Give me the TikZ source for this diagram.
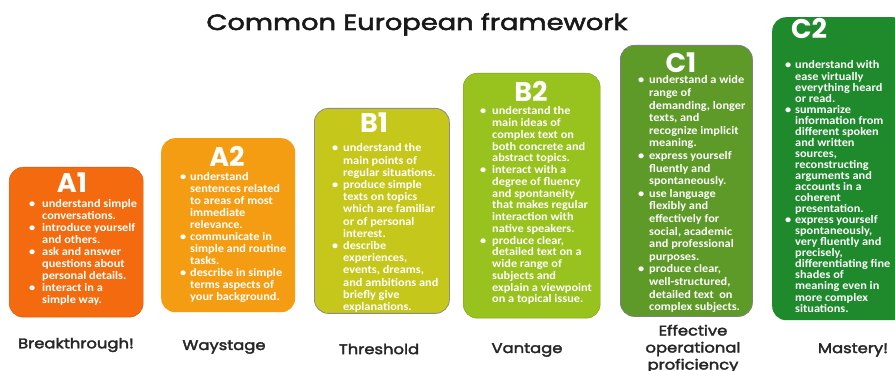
\documentclass[tikz,border=0pt]{standalone}
\usepackage{fontspec}
\setmainfont{Carlito}[FakeStretch=1.07]
\newfontfamily\gothic{Poppins}
\newfontfamily\gothiclbl[FakeBold=2.5,FakeStretch=1.17]{Poppins}
\newfontfamily\gothictitle[FakeBold=2.5,FakeStretch=1.24]{Poppins}
\definecolor{cAone}{HTML}{F46A0E}
\definecolor{cAtwo}{HTML}{F59D12}
\definecolor{cBone}{HTML}{C6C71B}
\definecolor{cBtwo}{HTML}{98C21D}
\definecolor{cCone}{HTML}{5E9A27}
\definecolor{cCtwo}{HTML}{1E8A2C}
\newlength\bw
\newcommand\bitem[1]{\makebox[\bw][l]{•}#1}
\newcommand\bcont[1]{\hspace*{\bw}#1}
\newcommand\levtext[2]{\parbox[t]{160pt}{\lineskiplimit=-100pt\setlength\bw{#1}#2}}
\tikzset{
  lvlbox/.style={rectangle, rounded corners=14pt, anchor=north west, inner sep=0},
  lvltitle/.style={font=\gothic\bfseries\fontsize{27}{27}\selectfont, text=white, anchor=base, inner sep=0},
  lvltext/.style={anchor=base west, inner sep=0, text=white},
  lbl/.style={font=\gothiclbl\fontsize{14}{17}\selectfont, text=black!85, align=center, inner sep=0}
}
\begin{document}
\begin{tikzpicture}[x=1pt,y=-1pt]
\useasboundingbox (0,0) rectangle (895,371);
\fill[white] (0,0) rectangle (895,371);

\node[font=\gothictitle\fontsize{22}{24}\selectfont, text=black!90, anchor=base, inner sep=0] (title) at (417,30) {Common European framework};

% A1
\node[lvlbox, fill=cAone, draw=cAone!85!black, minimum width=134pt, minimum height=150pt] (A1) at (9,167) {};
\node[lvltitle] (A1t) at (72,193) {A1};
\node[lvltext, font=\bfseries\fontsize{11.5}{12}\selectfont] (A1x) at (29,208) {\levtext{13pt}{%
\bitem{understand simple}\\\bcont{conversations.}\\
\bitem{introduce yourself}\\\bcont{and others.}\\
\bitem{ask and answer}\\\bcont{questions about}\\\bcont{personal details.}\\
\bitem{interact in a}\\\bcont{simple way.}}};

% A2
\node[lvlbox, fill=cAtwo, minimum width=134pt, minimum height=174pt] (A2) at (161,138) {};
\node[lvltitle] (A2t) at (227,167) {A2};
\node[lvltext, font=\bfseries\fontsize{11.5}{12}\selectfont] (A2x) at (180,181) {\levtext{10pt}{%
\bitem{understand}\\\bcont{sentences related}\\\bcont{to areas of most}\\\bcont{immediate}\\\bcont{relevance.}\\
\bitem{communicate in}\\\bcont{simple and routine}\\\bcont{tasks.}\\
\bitem{describe in simple}\\\bcont{terms aspects of}\\\bcont{your background.}}};

% B1
\node[lvlbox, fill=cBone, draw=black!45, line width=0.8pt, minimum width=135pt, minimum height=205pt] (B1) at (314,108) {};
\node[lvltitle] (B1t) at (374,133) {B1};
\node[lvltext, font=\bfseries\fontsize{11.5}{12.2}\selectfont] (B1x) at (332,152) {\levtext{11pt}{%
\bitem{understand the}\\\bcont{main points of}\\\bcont{regular situations.}\\
\bitem{produce simple}\\\bcont{texts on topics}\\\bcont{which are familiar}\\\bcont{or of personal}\\\bcont{interest.}\\
\bitem{describe}\\\bcont{experiences,}\\\bcont{events, dreams,}\\\bcont{and ambitions and}\\\bcont{briefly give}\\\bcont{explanations.}}};

% B2
\node[lvlbox, fill=cBtwo, draw=cBtwo!80!black, minimum width=137pt, minimum height=245pt] (B2) at (463,73) {};
\node[lvltitle] (B2t) at (531,102) {B2};
\node[lvltext, font=\bfseries\fontsize{11.5}{11.75}\selectfont] (B2x) at (480,115) {\levtext{12pt}{%
\bitem{understand the}\\\bcont{main ideas of}\\\bcont{complex text on}\\\bcont{both concrete and}\\\bcont{abstract topics.}\\
\bitem{interact with a}\\\bcont{degree of fluency}\\\bcont{and spontaneity}\\\bcont{that makes regular}\\\bcont{interaction with}\\\bcont{native speakers.}\\
\bitem{produce clear,}\\\bcont{detailed text on a}\\\bcont{wide range of}\\\bcont{subjects and}\\\bcont{explain a viewpoint}\\\bcont{on a topical issue.}}};

% C1
\node[lvlbox, fill=cCone, draw=black!50, line width=0.8pt, minimum width=132pt, minimum height=271pt] (C1) at (620,45) {};
\node[lvltitle] (C1t) at (681,73) {C1};
\node[lvltext, font=\bfseries\fontsize{11.5}{12.6}\selectfont] (C1x) at (638,84) {\levtext{11pt}{%
\bitem{understand a wide}\\\bcont{range of}\\\bcont{demanding, longer}\\\bcont{texts, and}\\\bcont{recognize implicit}\\\bcont{meaning.}\\
\bitem{express yourself}\\\bcont{fluently and}\\\bcont{spontaneously.}\\
\bitem{use language}\\\bcont{flexibly and}\\\bcont{effectively for}\\\bcont{social, academic}\\\bcont{and professional}\\\bcont{purposes.}\\
\bitem{produce clear,}\\\bcont{well-structured,}\\\bcont{detailed text\ \ on}\\\bcont{complex subjects.}}};

% C2
\node[lvlbox, fill=cCtwo, minimum width=135pt, minimum height=303pt] (C2) at (772,17) {};
\node[lvltitle] (C2t) at (809,39) {C2};
\node[lvltext, font=\bfseries\fontsize{11.5}{11.05}\selectfont] (C2x) at (785,69) {\levtext{10pt}{%
\bitem{understand with}\\\bcont{ease virtually}\\\bcont{everything heard}\\\bcont{or read.}\\
\bitem{summarize}\\\bcont{information from}\\\bcont{different spoken}\\\bcont{and written}\\\bcont{sources,}\\\bcont{reconstructing}\\\bcont{arguments and}\\\bcont{accounts in a}\\\bcont{coherent}\\\bcont{presentation.}\\
\bitem{express yourself}\\\bcont{spontaneously,}\\\bcont{very fluently and}\\\bcont{precisely,}\\\bcont{differentiating fine}\\\bcont{shades of}\\\bcont{meaning even in}\\\bcont{more complex}\\\bcont{situations.}}};

% labels
\node[lbl] (L1) at (76,345) {Breakthrough!};
\node[lbl] (L2) at (224,347) {Waystage};
\node[lbl] (L3) at (379,349) {Threshold};
\node[lbl] (L4) at (527,350) {Vantage};
\node[lbl, font=\gothiclbl\fontsize{14}{17}\selectfont] (L5) at (693,349) {Effective\\operational\\proficiency};
\node[lbl] (L6) at (853,350) {Mastery!};
\end{tikzpicture}
\end{document}
